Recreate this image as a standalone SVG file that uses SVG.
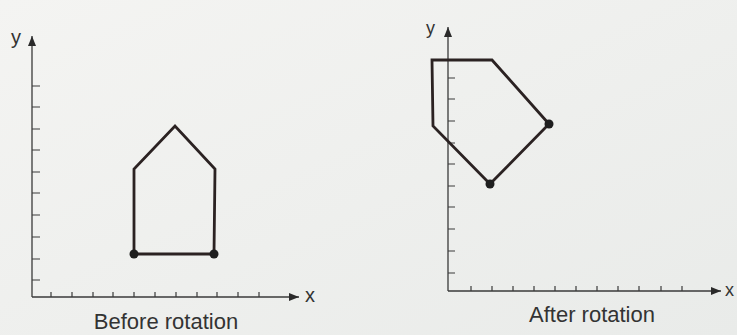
<svg xmlns="http://www.w3.org/2000/svg" width="737" height="335" viewBox="0 0 737 335">
  <defs>
    <marker id="arr" viewBox="0 0 10 8" refX="10" refY="4" markerWidth="10" markerHeight="8" markerUnits="userSpaceOnUse" orient="auto">
      <path d="M0,0 L10,4 L0,8 Z" fill="#2a2a2a"/>
    </marker>
    <linearGradient id="bg" x1="0" y1="0" x2="1" y2="1">
      <stop offset="0" stop-color="#f4f4f2"/>
      <stop offset="1" stop-color="#e9ebe9"/>
    </linearGradient>
  </defs>
  <style>
    .axis { stroke: #3a3a3a; stroke-width: 1.3; fill: none; }
    .tick { stroke: #3a3a3a; stroke-width: 1.2; fill: none; }
    .shape { stroke: #2b2222; stroke-width: 2.8; fill: none; stroke-linejoin: miter; }
    .dot { fill: #1e1e1e; }
    .lbl { font-family: "Liberation Sans", Arial, sans-serif; fill: #333; }
  </style>
  <rect width="737" height="335" fill="url(#bg)"/>

  <g id="connectors">
    <line class="axis" x1="32" y1="297" x2="32" y2="36" marker-end="url(#arr)"/>
    <line class="axis" x1="32" y1="297" x2="299" y2="297" marker-end="url(#arr)"/>
    <line class="axis" x1="448" y1="291" x2="448" y2="27" marker-end="url(#arr)"/>
    <line class="axis" x1="448" y1="291" x2="721" y2="291" marker-end="url(#arr)"/>
  </g>

  <g id="left-ticks">
    <path class="tick" d="M32,86h8M32,107h8M32,129h8M32,150h8M32,172h8M32,193h8M32,215h8M32,237h8M32,259h8M32,280h8"/>
    <path class="tick" d="M51,297v-5M72,297v-5M93,297v-5M113,297v-5M134,297v-5M155,297v-5M176,297v-5M197,297v-5M217,297v-5M238,297v-5M259,297v-5"/>
  </g>

  <g id="right-ticks">
    <path class="tick" d="M448,78h7M448,99h7M448,121h7M448,143h7M448,164h7M448,186h7M448,207h7M448,229h7M448,251h7M448,273h7"/>
    <path class="tick" d="M471,291v-5M492,291v-5M513,291v-5M534,291v-5M555,291v-5M576,291v-5M597,291v-5M618,291v-5M639,291v-5M661,291v-5M682,291v-5"/>
  </g>

  <g id="house-before">
    <polygon class="shape" points="134,254 214,254 215,169 175,126 134,169"/>
    <circle class="dot" cx="134" cy="254" r="4.5"/>
    <circle class="dot" cx="214" cy="254" r="4.5"/>
  </g>

  <g id="house-after">
    <polygon class="shape" points="432,60 492,60 549,124 490,184 433,126"/>
    <circle class="dot" cx="549" cy="124" r="4.5"/>
    <circle class="dot" cx="490" cy="184" r="4.5"/>
  </g>

  <g id="labels">
    <text class="lbl" x="11" y="44" font-size="20">y</text>
    <text class="lbl" x="305" y="302" font-size="20">x</text>
    <text class="lbl" x="426" y="34" font-size="18">y</text>
    <text class="lbl" x="725" y="296" font-size="18">x</text>
    <text class="lbl" x="166" y="329" font-size="22" text-anchor="middle">Before rotation</text>
    <text class="lbl" x="592" y="322" font-size="22" text-anchor="middle">After rotation</text>
  </g>
</svg>
